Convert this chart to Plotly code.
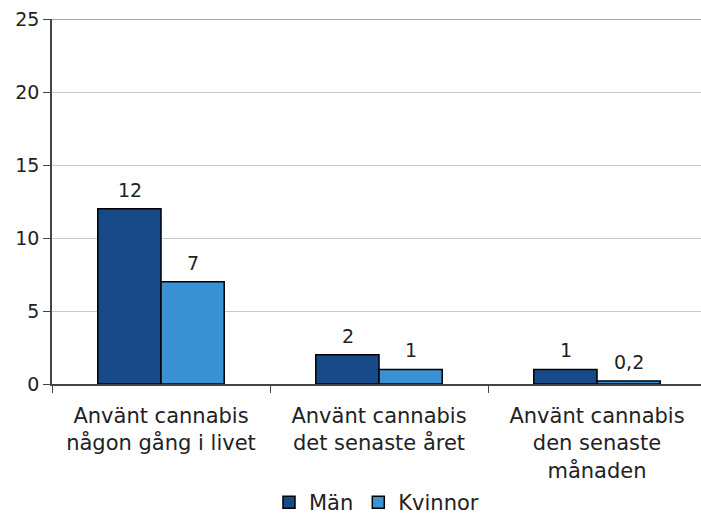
import plotly.graph_objects as go

categories = [
    "Använt cannabis<br>någon gång i livet",
    "Använt cannabis<br>det senaste året",
    "Använt cannabis<br>den senaste<br>månaden",
]
man = [12, 2, 1]
kvinnor = [7, 1, 0.2]
man_labels = ["12", "2", "1"]
kvinnor_labels = ["7", "1", "0,2"]

font = "DejaVu Sans, Verdana, sans-serif"

fig = go.Figure()
fig.add_trace(go.Bar(
    x=categories, y=man, name="Män",
    marker=dict(color="#174A86", line=dict(color="black", width=1.5)),
))
fig.add_trace(go.Bar(
    x=categories, y=kvinnor, name="Kvinnor",
    marker=dict(color="#3A91D4", line=dict(color="black", width=1.5)),
))

# value labels above each bar (offset half a bar width left/right)
for vals, labels, shift in [(man, man_labels, -31.5), (kvinnor, kvinnor_labels, 31.5)]:
    for cat, v, lab in zip(categories, vals, labels):
        fig.add_annotation(x=cat, y=v, text=lab, showarrow=False,
                           xshift=shift, yshift=6, yanchor="bottom",
                           font=dict(size=19, color="#222"))

fig.update_layout(
    width=701, height=516,
    margin=dict(l=52, r=0, t=19, b=132, autoexpand=False),
    barmode="group", bargap=0.42, bargroupgap=0,
    plot_bgcolor="white", paper_bgcolor="white",
    font=dict(family=font, size=19, color="#222"),
    showlegend=True,
    legend=dict(orientation="h", x=0.5, xanchor="center", y=-0.325, yanchor="middle",
                font=dict(size=21), itemwidth=30, traceorder="normal"),
)
# top frame line
fig.add_shape(type="line", xref="paper", yref="y", x0=0, x1=1, y0=25, y1=25,
              line=dict(color="#888", width=1.5))
fig.update_xaxes(
    range=[-0.5, 2.477], showline=True, linecolor="#444", linewidth=1.5,
    ticks="outside", tickson="boundaries", ticklen=7, tickcolor="#444",
    tickfont=dict(size=21), showgrid=False, automargin=False,
    ticklabelstandoff=12,
)
fig.update_yaxes(
    range=[0, 25], dtick=5, showline=True, linecolor="#444", linewidth=1.5,
    ticks="outside", ticklen=7, tickcolor="#444",
    gridcolor="#c8c8c8", gridwidth=1, zeroline=False,
    tickfont=dict(size=19), automargin=False,
)

fig.write_html("out.html", config={"displayModeBar": False},
               post_script="document.body.style.margin='0';")
